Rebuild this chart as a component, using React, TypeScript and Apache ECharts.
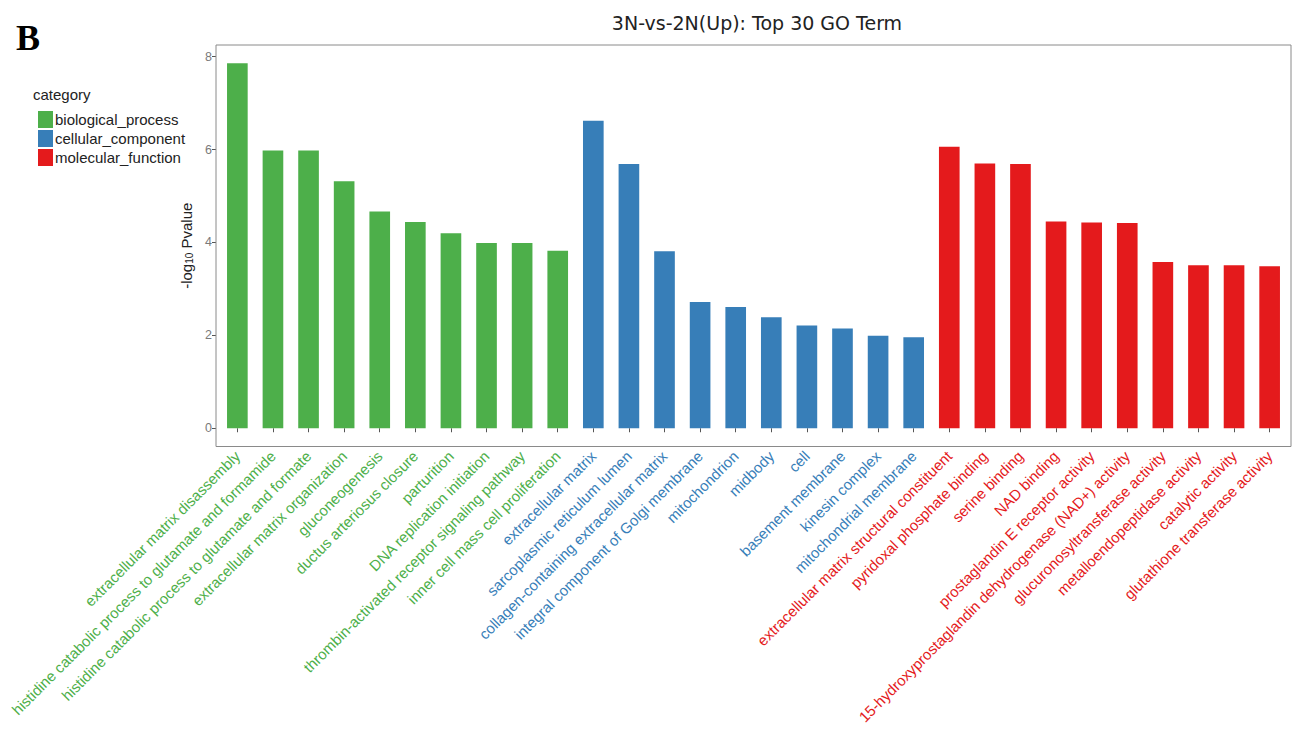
import React, { useEffect, useRef } from "react";
import * as echarts from "echarts";

// GO terms and -log10(p) values, grouped by ontology category
const bpTerms = [
  "extracellular matrix disassembly",
  "histidine catabolic process to glutamate and formamide",
  "histidine catabolic process to glutamate and formate",
  "extracellular matrix organization",
  "gluconeogenesis",
  "ductus arteriosus closure",
  "parturition",
  "DNA replication initiation",
  "thrombin-activated receptor signaling pathway",
  "inner cell mass cell proliferation",
];
const bpValues = [7.86, 5.98, 5.98, 5.32, 4.67, 4.44, 4.2, 3.99, 3.99, 3.82];

const ccTerms = [
  "extracellular matrix",
  "sarcoplasmic reticulum lumen",
  "collagen-containing extracellular matrix",
  "integral component of Golgi membrane",
  "mitochondrion",
  "midbody",
  "cell",
  "basement membrane",
  "kinesin complex",
  "mitochondrial membrane",
];
const ccValues = [6.62, 5.69, 3.81, 2.72, 2.61, 2.39, 2.21, 2.15, 1.99, 1.96];

const mfTerms = [
  "extracellular matrix structural constituent",
  "pyridoxal phosphate binding",
  "serine binding",
  "NAD binding",
  "prostaglandin E receptor activity",
  "15-hydroxyprostaglandin dehydrogenase (NAD+) activity",
  "glucuronosyltransferase activity",
  "metalloendopeptidase activity",
  "catalytic activity",
  "glutathione transferase activity",
];
const mfValues = [6.06, 5.7, 5.69, 4.45, 4.43, 4.42, 3.58, 3.51, 3.51, 3.49];

const categoryNames = ["biological_process", "cellular_component", "molecular_function"];
const categoryColors = ["#4DAF4A", "#377EB8", "#E41A1C"];

const yTicks = [0, 2, 4, 6, 8];

const FONT = "'Liberation Sans', Arial, Helvetica, sans-serif";
const TITLE_FONT = "'DejaVu Sans', Verdana, sans-serif";

export default function App() {
  const ref = useRef<HTMLDivElement>(null);

  useEffect(() => {
    if (!ref.current) return;
    const chart = echarts.init(ref.current, undefined, { renderer: "svg" });

    const groups = [
      { terms: bpTerms, values: bpValues },
      { terms: ccTerms, values: ccValues },
      { terms: mfTerms, values: mfValues },
    ];
    const allTerms: string[] = [];
    const termGroup: number[] = [];
    groups.forEach((g, gi) => {
      g.terms.forEach((t) => {
        allTerms.push(t);
        termGroup.push(gi);
      });
    });

    const series = groups.map((g, gi) => {
      const data = allTerms.map(() => null as number | null);
      let offset = 0;
      for (let k = 0; k < gi; k++) offset += groups[k].terms.length;
      g.values.forEach((v, i) => {
        data[offset + i] = v;
      });
      return {
        name: categoryNames[gi],
        type: "bar",
        stack: "all",
        barWidth: "58%",
        itemStyle: { color: categoryColors[gi] },
        data,
      };
    });

    // plot panel frame (ggplot-style), with a 0.6-category expansion on each side
    const panelLeft = 216;
    const panelRight = 1291;
    const panelTop = 45;
    const panelBottom = 446.5;
    const unit = (panelRight - panelLeft) / (allTerms.length - 1 + 1.2);
    const inset = unit * 0.1;

    chart.setOption({
      animation: false,
      backgroundColor: "#ffffff",
      textStyle: { fontFamily: FONT },
      title: {
        text: "3N-vs-2N(Up): Top 30 GO Term",
        left: 752,
        top: 8,
        textAlign: "center",
        textStyle: { fontFamily: TITLE_FONT, fontSize: 19, fontWeight: "normal", color: "#222" },
      },
      legend: {
        orient: "vertical",
        left: 33,
        top: 106,
        itemWidth: 15,
        itemHeight: 17,
        itemGap: 2,
        icon: "rect",
        selectedMode: false,
        data: categoryNames,
        textStyle: { fontFamily: FONT, fontSize: 15, color: "#222", padding: [0, 0, 0, -3] },
      },
      grid: {
        left: panelLeft + inset,
        right: 1297 - (panelRight - inset),
        top: panelTop,
        bottom: 729 - panelBottom,
      },
      xAxis: {
        type: "category",
        data: allTerms,
        axisLine: { show: false },
        axisTick: { show: true, alignWithLabel: true, length: 4, lineStyle: { color: "#555" } },
        axisLabel: {
          interval: 0,
          rotate: 45,
          margin: 7,
          fontSize: 15,
          fontFamily: FONT,
          color: (_v: string, idx: number) => categoryColors[termGroup[idx]],
        },
      },
      yAxis: {
        type: "value",
        min: -0.393,
        max: 8.253,
        offset: inset,
        name: "-log{sub|10} Pvalue",
        nameLocation: "middle",
        nameRotate: 90,
        nameGap: 22,
        nameTextStyle: {
          fontFamily: FONT,
          fontSize: 15,
          color: "#222",
          rich: {
            sub: { fontSize: 10, fontFamily: FONT, color: "#222", verticalAlign: "bottom", padding: [6, 0, 0, 0] },
          },
        },
        axisLine: { show: false },
        splitLine: { show: false },
        axisTick: { show: true, length: 4, customValues: yTicks, lineStyle: { color: "#555" } },
        axisLabel: { customValues: yTicks, fontSize: 12.5, color: "#7a7a7a", margin: 4, fontFamily: FONT },
      },
      graphic: [
        {
          type: "rect",
          shape: { x: panelLeft, y: panelTop, width: panelRight - panelLeft, height: panelBottom - panelTop },
          style: { fill: "none", stroke: "#8a8a8a", lineWidth: 1 },
          z: 10,
          silent: true,
        },
        {
          type: "text",
          left: 16,
          top: 20,
          style: { text: "B", font: "bold 36px 'Liberation Serif', 'Times New Roman', serif", fill: "#000" },
        },
        {
          type: "text",
          left: 33,
          top: 87,
          style: { text: "category", font: `15px ${FONT}`, fill: "#222" },
        },
      ],
      series,
    });

    return () => chart.dispose();
  }, []);

  return (
    <div
      ref={ref}
      style={{ position: "fixed", left: 0, top: 0, width: 1297, height: 729, background: "#fff" }}
    />
  );
}
